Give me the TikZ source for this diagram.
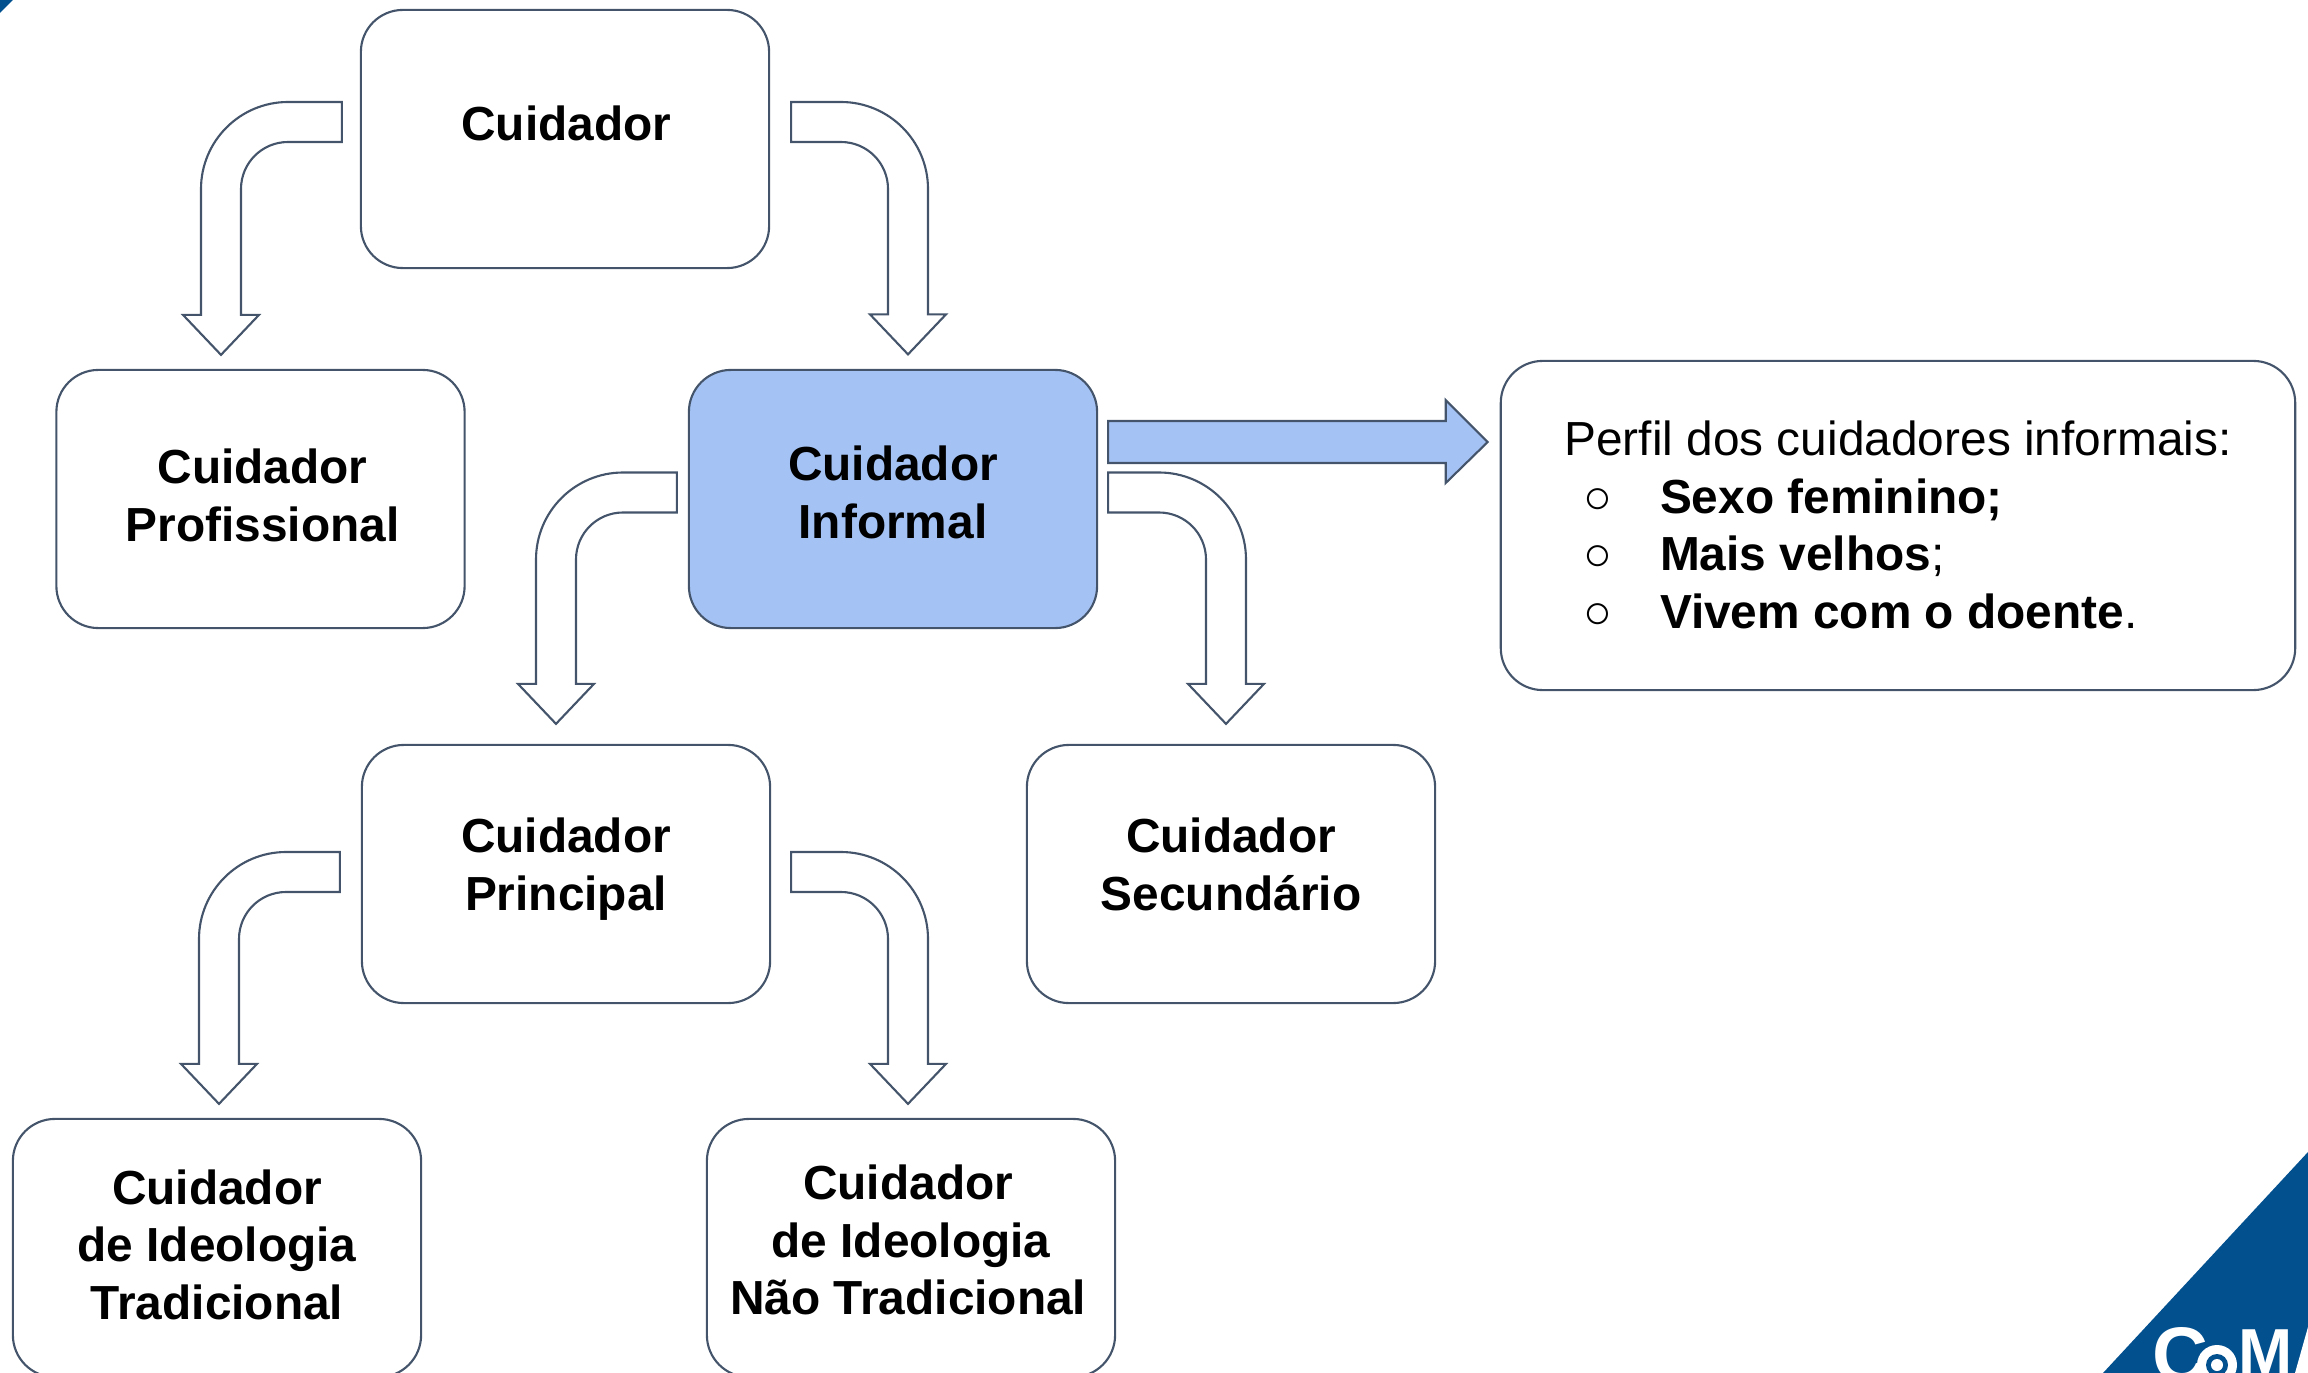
\documentclass[tikz,border=0pt]{standalone}
\usepackage{fontspec}
\setmainfont{Liberation Sans}
\usetikzlibrary{calc}
\definecolor{edgeblue}{HTML}{44546A}
\definecolor{softblue}{HTML}{A4C2F4}
\definecolor{logoblue}{HTML}{03508F}
\tikzset{
  textbase/.code={%
    \pgfmathsetmacro\BaseUp{30+#1}\pgfmathsetmacro\BaseDown{30-#1}%
    \tikzset{text height=\BaseUp pt,text depth=\BaseDown pt}},
  box/.style={draw=edgeblue,line width=.6pt,rounded corners=.42cm,fill=white,
    minimum width=4.08cm,minimum height=2.58cm,inner sep=0pt,align=center,
    font=\fontsize{13.6}{16.4}\selectfont\bfseries},
  blockline/.style={draw=edgeblue,line width=.6pt,line join=miter},
  logotext/.style={anchor=base west,text=white,inner sep=0pt,font=\bfseries}
}
\NewDocumentCommand\DrawBend{O{1}mm}%
{%
\coordinate (tl) at (#2);\coordinate (hd) at (#3);\coordinate (kn) at (hd |- tl);%
\draw[blockline,fill=white] ($(tl)+(0,-20)$) -- ($(kn)+({(#1)*67},-20)$)
  .. controls +({-(#1)*48},0) and +(0,-48) .. ($(kn)+({-(#1)*20},67)$)
  -- ($(hd)+({-(#1)*20},-40)$) -- ($(hd)+({-(#1)*38},-40)$) -- (hd)
  -- ($(hd)+({(#1)*38},-40)$) -- ($(hd)+({(#1)*20},-40)$) -- ($(kn)+({(#1)*20},67)$)
  .. controls +(0,-26) and +({-(#1)*26},0) .. ($(kn)+({(#1)*67},20)$)
  -- ($(tl)+(0,20)$) -- cycle;%
}
\NewDocumentCommand\DrawBlock{mm}%
{%
\coordinate (tl) at (#1);\coordinate (hd) at (#2);\coordinate (kn) at (hd |- tl);%
\draw[blockline,fill=softblue] ($(tl)+(0,-21)$) -- ($(kn)+(-42,-21)$) -- ($(kn)+(-42,-42)$) -- (hd)
  -- ($(kn)+(-42,41)$) -- ($(kn)+(-42,21)$) -- ($(tl)+(0,21)$) -- cycle;%
}

\begin{document}
\begin{tikzpicture}[x=.01cm,y=-.01cm]
\useasboundingbox (0,0) rectangle (2308,1373);
% corners
\fill[logoblue] (0,0) -- (13,0) -- (0,13) -- cycle;
\fill[logoblue] (2308,1152) -- (2308,1373) -- (2103,1373) -- cycle;
\node[logotext,font=\fontsize{22}{22}\selectfont\bfseries] (logoc) at (2152,1381) {C};
\fill[white] (2217,1365) circle (20);
\fill[logoblue] (2217,1365) circle (11);
\fill[white] (2217,1365) circle (6);
\node[logotext,font=\fontsize{18.5}{20}\selectfont\bfseries] (logom) at (2238,1374) {M};
\fill[white] (2308,1327) -- (2295,1373) -- (2308,1373) -- cycle;
% boxes
\node[box,textbase=.4] (cuidador) at (565,139) {\hspace*{.8pt}Cuidador};
\node[box,textbase=12] (profissional) at (260.5,499) {\hspace*{1.2pt}Cuidador\\\hspace*{1.2pt}Profissional};
\node[box,fill=softblue,textbase=11.1] (informal) at (893,499) {Cuidador\\Informal};
\node[box,textbase=10.3] (principal) at (566,874) {Cuidador\\Principal};
\node[box,textbase=10.3] (secundario) at (1231,874) {Cuidador\\Secundário};
\node[box,textbase=20.3] (tradicional) at (217,1248) {Cuidador\\de Ideologia\\Tradicional};
\node[box,textbase=19] (naotradicional) at (911,1248) {Cuidador\hspace*{1.6pt}\\de Ideologia\hspace*{3.7pt}\\Não Tradicional\hspace*{1.6pt}};
\node[box,minimum width=7.94cm,minimum height=3.29cm,align=left,
  font=\fontsize{13.6}{16.4}\selectfont,textbase=29.3] (perfil) at (1898,525.5)
  {Perfil dos cuidadores informais:\\
  \hspace*{5.5pt}\makebox[21.7pt][l]{○}\textbf{Sexo feminino;}\\
  \hspace*{5.5pt}\makebox[21.7pt][l]{○}\textbf{Mais velhos};\\
  \hspace*{5.5pt}\makebox[21.7pt][l]{○}\textbf{Vivem com o doente}.};
% arrows
\DrawBend{$(cuidador.west)+(-18,-17)$}{$(profissional.north)+(-39.5,-14)$}
\DrawBend[-1]{$(cuidador.east)+(21,-17)$}{$(informal.north)+(15,-14.5)$}
\DrawBend{$(informal.west)+(-11,-6.5)$}{$(principal.north)+(-10,-20)$}
\DrawBend[-1]{$(informal.east)+(10,-6.5)$}{$(secundario.north)+(-5,-20)$}
\DrawBend{$(principal.west)+(-21,-2)$}{$(tradicional.north)+(2,-14)$}
\DrawBend[-1]{$(principal.east)+(20,-2)$}{$(naotradicional.north)+(-3,-14)$}
\DrawBlock{$(informal.east)+(10,-57)$}{$(perfil.west)+(-12,-83.5)$}
\end{tikzpicture}
\end{document}
